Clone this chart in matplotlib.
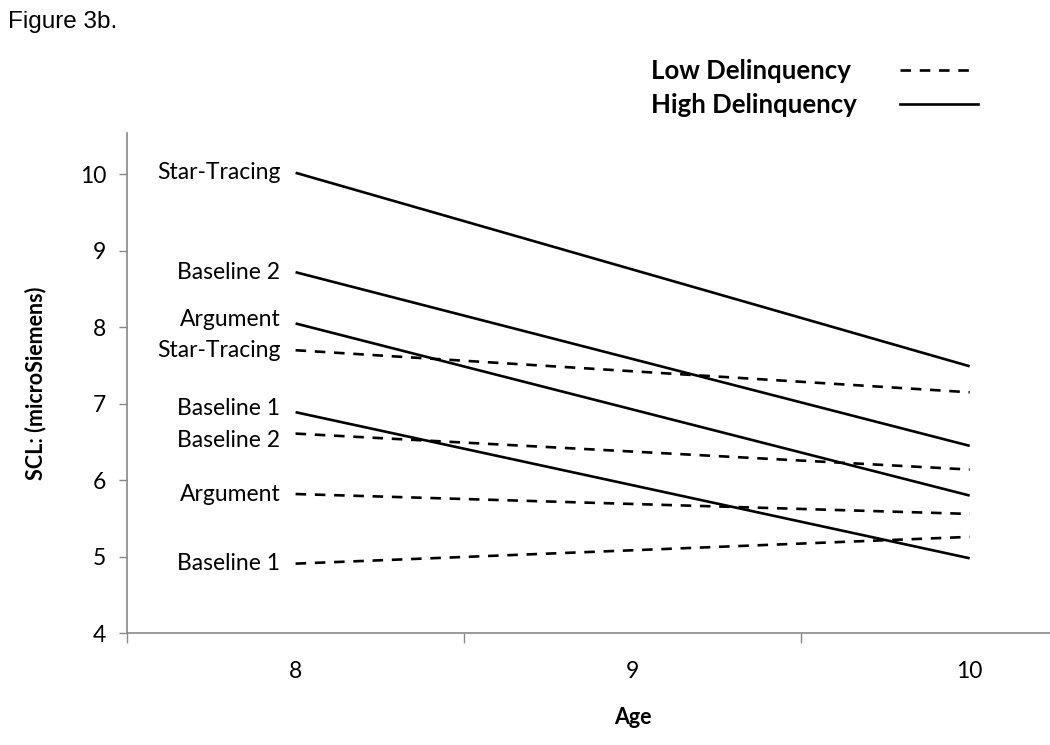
import matplotlib.pyplot as plt
from matplotlib.lines import Line2D

# -----------------------------------------------------------------------------
# Data
# -----------------------------------------------------------------------------
ages = [8, 10]
age_ticks = [8, 9, 10]
conditions = ['Star-Tracing', 'Baseline 2', 'Argument', 'Baseline 1']

high_start = [10.02, 8.72, 8.05, 6.89]
high_end = [7.49, 6.45, 5.80, 4.98]
low_start = [7.70, 6.61, 5.82, 4.91]
low_end = [7.15, 6.14, 5.56, 5.26]

# label offsets (points) so the texts do not overlap
high_label_dy = [0, 0, 3, 3]
low_label_dy = [0, -5, 0, 0]

plt.rcParams['font.family'] = ['Lato', 'DejaVu Sans']

fig = plt.figure(figsize=(10.5, 7.45), dpi=100)
ax = fig.add_axes([0.121, 0.150, 0.963, 0.6715])

dash = (0, (4, 3.3))
lbl_size = 16.5
for i, name in enumerate(conditions):
    ax.plot(ages, [high_start[i], high_end[i]], color='black', lw=1.9,
            solid_capstyle='butt')
    ax.plot(ages, [low_start[i], low_end[i]], color='black', lw=1.9,
            linestyle=dash)
    ax.annotate(name, xy=(ages[0], high_start[i]), xytext=(-11, high_label_dy[i]),
                textcoords='offset points', ha='right', va='center', fontsize=lbl_size)
    ax.annotate(name, xy=(ages[0], low_start[i]), xytext=(-11, low_label_dy[i]),
                textcoords='offset points', ha='right', va='center', fontsize=lbl_size)

ax.set_xlim(7.5, 10.5)
ax.set_ylim(4, 10.54)
ax.set_yticks(range(4, 11))
ax.set_xticks(age_ticks)
ax.set_xticklabels([str(a) for a in age_ticks])
ax.set_xticks([7.5, 8.5, 9.5, 10.5], minor=True)
ax.tick_params(axis='x', which='major', length=0, pad=20, labelsize=16.5)
ax.tick_params(axis='x', which='minor', length=7, width=1, color='#888888',
               direction='out')
ax.tick_params(axis='y', length=6, width=1, color='#888888', direction='out',
               labelsize=16.5, pad=9)

for side in ['top', 'right']:
    ax.spines[side].set_visible(False)
for side in ['left', 'bottom']:
    ax.spines[side].set_color('#888888')
    ax.spines[side].set_linewidth(1.2)

ax.set_ylabel('SCL: (microSiemens)', fontsize=15.5, fontweight='bold', labelpad=24)
fig.text(633 / 1050, 1 - 718 / 745, 'Age', fontsize=15.5, fontweight='bold',
         ha='center', va='center')

# title
fig.text(8 / 1050, 1 - 22 / 745, 'Figure 3b.', fontsize=17.5,
         family='Liberation Sans', ha='left', va='center')

# legend drawn by hand
fig.text(651 / 1050, 1 - 71 / 745, 'Low Delinquency', fontsize=18.5,
         fontweight='bold', ha='left', va='center')
fig.text(651 / 1050, 1 - 105 / 745, 'High Delinquency', fontsize=18.5,
         fontweight='bold', ha='left', va='center')
fig.add_artist(Line2D([900 / 1050, 972 / 1050], [1 - 70 / 745, 1 - 70 / 745],
                      color='black', lw=1.9, linestyle=dash))
fig.add_artist(Line2D([900 / 1050, 978 / 1050], [1 - 104 / 745, 1 - 104 / 745],
                      color='black', lw=1.9))

fig.savefig('out.png', dpi=100)
